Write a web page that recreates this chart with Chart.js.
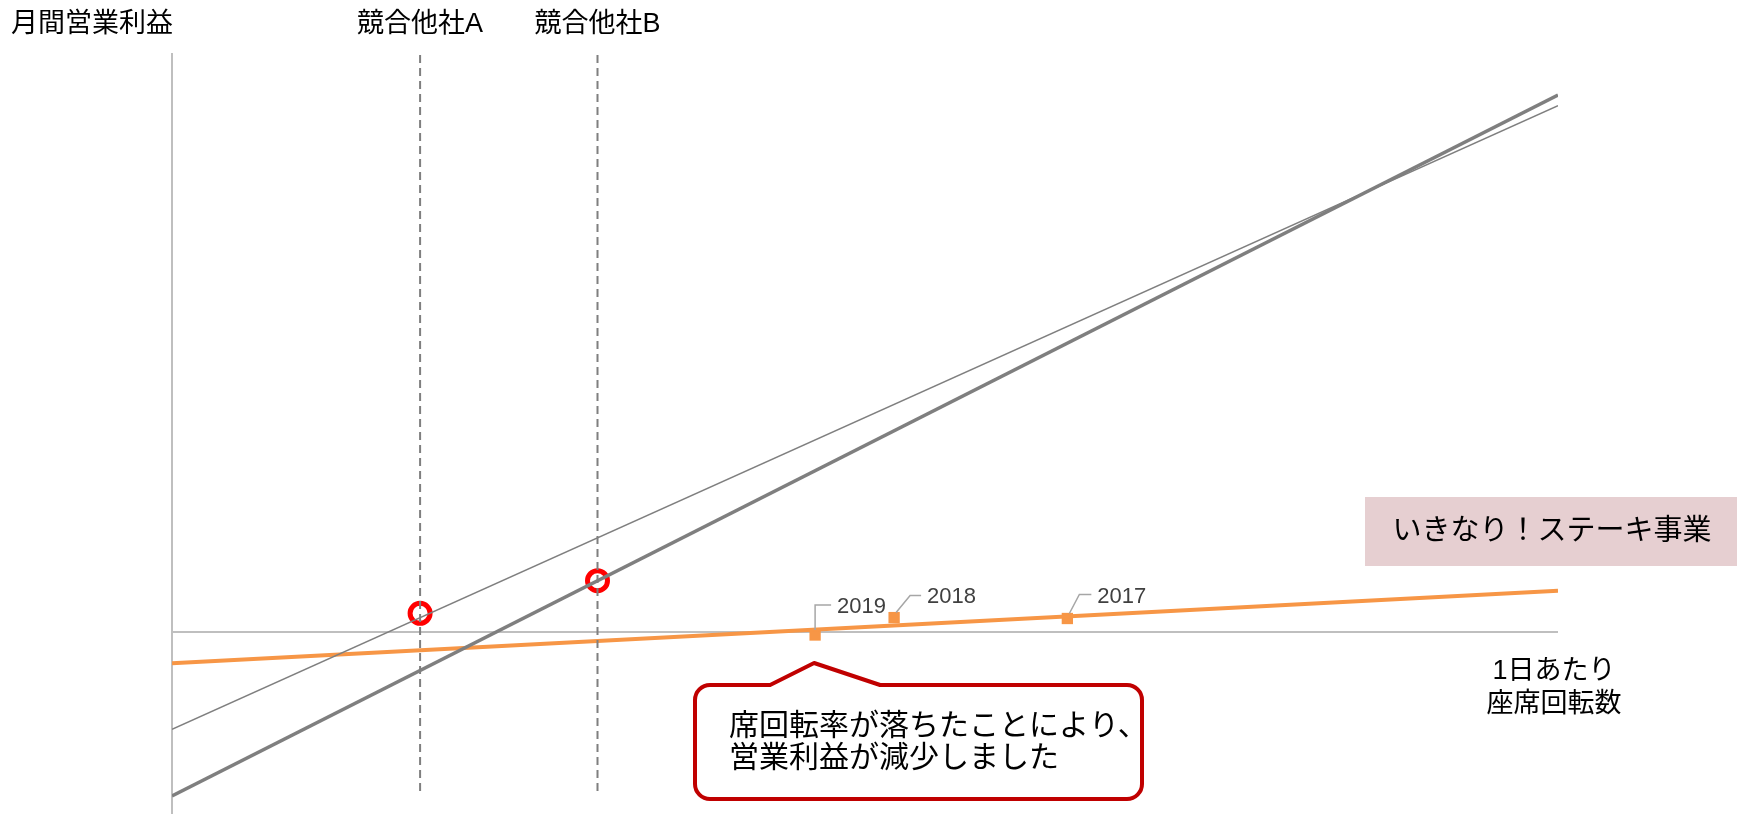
<!DOCTYPE html>
<html lang="ja">
<head>
<meta charset="utf-8">
<title>月間営業利益と座席回転数</title>
<script src="https://cdn.jsdelivr.net/npm/chart.js@4.4.1/dist/chart.umd.min.js"></script>
<style>
  html, body { margin: 0; padding: 0; background: #fff; }
  #wrap { width: 1737px; height: 814px; }
</style>
</head>
<body>
<div id="wrap"><canvas id="profitChart" width="1737" height="814"></canvas></div>
<script>
const FONT = "'Liberation Sans', 'Noto Sans CJK JP', sans-serif";

// axis ranges (no ticks shown, arbitrary units)
const xRange = [0, 10];
const yRange = [-18.2, 57.8];

// competitor profit lines: y at x = 0 and x = 10
const competitors = ['競合他社A', '競合他社B'];
const lineA = [-9.73, 52.63];
const lineB = [-16.4, 53.7];
const competitorTurnover = [1.79, 3.07];
const competitorProfit = [1.87, 5.13];

// いきなり！ステーキ
const seriesName = 'いきなり！ステーキ事業';
const ikinariTrend = [-3.13, 4.13];
const years = ['2019', '2018', '2017'];
const ikinariTurnover = [4.64, 5.21, 6.46];
const ikinariProfit = [-0.3, 1.44, 1.35];

const GRAY = '#7f7f7f';
const ORANGE = '#f79646';

const ends = arr => [{ x: xRange[0], y: arr[0] }, { x: xRange[1], y: arr[1] }];
const vline = x => [{ x: x, y: yRange[1] - 0.1 }, { x: x, y: -15.9 }];

// label leader offsets per year (px): elbow dx/dy from marker, text dx/dy
const labelStyle = [
    { ex: 0, ey: -30, tx: 22, ty: -28 },
    { ex: 16, ey: -22, tx: 33, ty: -21 },
    { ex: 12, ey: -24, tx: 30, ty: -22 }
];

const annotations = {
    id: 'annotations',
    afterDatasetsDraw(chart) {
        const c = chart.ctx;
        const xs = chart.scales.x;
        const ys = chart.scales.y;
        c.save();

        // title + competitor labels
        c.fillStyle = '#000';
        c.textBaseline = 'middle';
        c.font = '27px ' + FONT;
        c.textAlign = 'left';
        c.fillText('月間営業利益', 11, 25);
        c.textAlign = 'center';
        competitors.forEach((name, i) => {
            c.fillText(name, xs.getPixelForValue(competitorTurnover[i]), 25);
        });

        // year labels with leader lines
        c.font = '22px ' + FONT;
        years.forEach((yr, i) => {
            const px = xs.getPixelForValue(ikinariTurnover[i]);
            const py = ys.getPixelForValue(ikinariProfit[i]);
            const s = labelStyle[i];
            c.strokeStyle = '#a6a6a6';
            c.lineWidth = 1.5;
            c.beginPath();
            c.moveTo(px + (s.ex ? 2 : 0), py - 5);
            c.lineTo(px + s.ex, py + s.ey);
            c.lineTo(px + s.tx - 6, py + s.ey);
            c.stroke();
            c.fillStyle = '#404040';
            c.textAlign = 'left';
            c.fillText(yr, px + s.tx, py + s.ty);
        });

        // series label box
        c.fillStyle = '#e6cfd1';
        c.fillRect(1365, 497, 372, 69);
        c.fillStyle = '#000';
        c.textAlign = 'center';
        c.font = '29px ' + FONT;
        c.fillText(seriesName, 1552, 532);

        // x axis title
        c.font = '27px ' + FONT;
        c.fillText('1日あたり', 1554, 672);
        c.fillText('座席回転数', 1554, 705);

        // callout pointing at 2019
        const ax = xs.getPixelForValue(ikinariTurnover[0]) - 1;
        const L = 695, T = 685, R = 1142, B = 799, r = 15;
        c.beginPath();
        c.moveTo(L + r, T);
        c.lineTo(ax - 44, T);
        c.lineTo(ax, 663);
        c.lineTo(ax + 66, T);
        c.lineTo(R - r, T);
        c.arcTo(R, T, R, T + r, r);
        c.lineTo(R, B - r);
        c.arcTo(R, B, R - r, B, r);
        c.lineTo(L + r, B);
        c.arcTo(L, B, L, B - r, r);
        c.lineTo(L, T + r);
        c.arcTo(L, T, L + r, T, r);
        c.closePath();
        c.fillStyle = '#fff';
        c.fill();
        c.strokeStyle = '#c00000';
        c.lineWidth = 4;
        c.lineJoin = 'round';
        c.stroke();
        c.fillStyle = '#000';
        c.textAlign = 'left';
        c.font = '30px ' + FONT;
        c.fillText('席回転率が落ちたことにより、', 729, 727);
        c.fillText('営業利益が減少しました', 729, 759);

        c.restore();
    }
};

new Chart(document.getElementById('profitChart'), {
    type: 'scatter',
    data: {
        datasets: [
            { data: vline(competitorTurnover[0]), showLine: true, borderColor: GRAY, borderWidth: 2, borderDash: [8, 5], pointRadius: 0 },
            { data: vline(competitorTurnover[1]), showLine: true, borderColor: GRAY, borderWidth: 2, borderDash: [8, 5], pointRadius: 0 },
            { data: ends(lineA), showLine: true, borderColor: GRAY, borderWidth: 1.5, pointRadius: 0 },
            { data: ends(lineB), showLine: true, borderColor: GRAY, borderWidth: 3.5, pointRadius: 0 },
            { data: ends(ikinariTrend), showLine: true, borderColor: ORANGE, borderWidth: 4, pointRadius: 0 },
            {
                data: ikinariTurnover.map((x, i) => ({ x: x, y: ikinariProfit[i] })),
                pointStyle: 'rect', pointRadius: 8, backgroundColor: ORANGE, borderWidth: 0
            },
            {
                data: competitorTurnover.map((x, i) => ({ x: x, y: competitorProfit[i] })),
                pointRadius: 10, borderWidth: 5, borderColor: '#ff0000', backgroundColor: '#fff'
            }
        ]
    },
    options: {
        responsive: false,
        animation: false,
        layout: { autoPadding: false, padding: { left: 172, right: 179, top: 54, bottom: 0 } },
        plugins: { legend: { display: false }, tooltip: { enabled: false } },
        scales: {
            x: { type: 'linear', min: xRange[0], max: xRange[1], display: false },
            y: {
                type: 'linear', min: yRange[0], max: yRange[1],
                ticks: { display: false, stepSize: 10 },
                grid: {
                    drawTicks: false,
                    lineWidth: 2,
                    color: ctx => (ctx.tick && ctx.tick.value === 0) ? '#bfbfbf' : 'rgba(0,0,0,0)'
                },
                border: { display: true, color: '#bfbfbf', width: 2 },
                afterFit: s => { s.width = 0; }
            }
        }
    },
    plugins: [annotations]
});
</script>
</body>
</html>
